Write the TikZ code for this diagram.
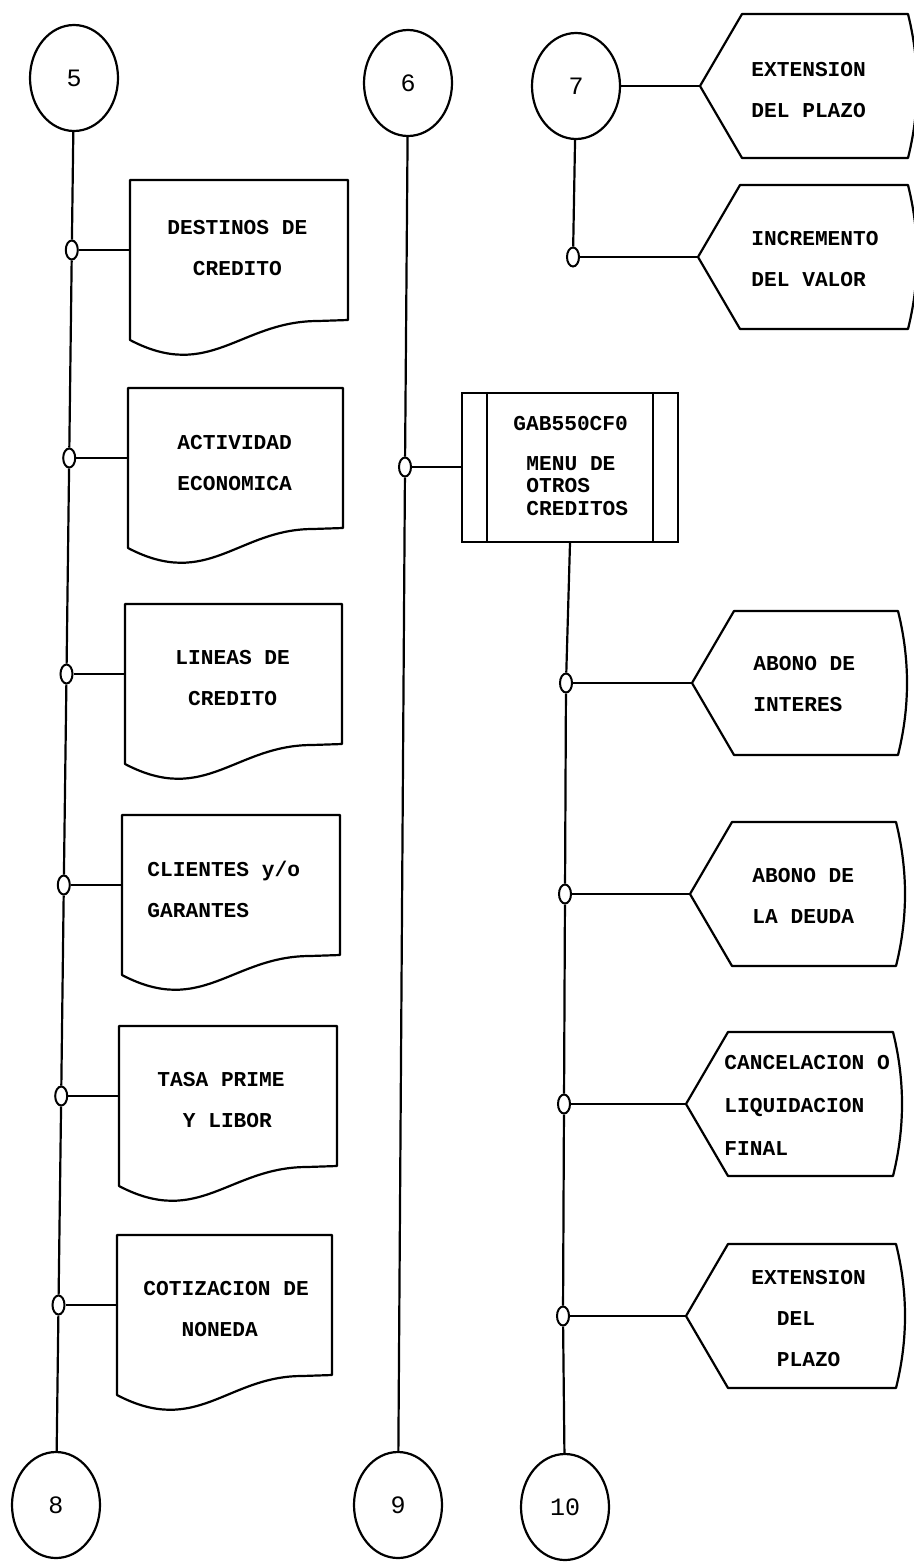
\documentclass[tikz,border=0pt]{standalone}
\usepackage{fontspec}
\newfontfamily\boxfont{Liberation Mono}
\usetikzlibrary{shapes.geometric,calc}

\tikzset{
  flow/.style={line width=1.1pt, line join=round},
  conn/.style={ellipse, draw, line width=1.1pt, minimum width=44pt, minimum height=53pt,
    inner sep=0pt, font=\boxfont\fontsize{12.5pt}{14pt}\selectfont},
  joint/.style={ellipse, draw, fill=white, line width=1pt, minimum width=6pt,
    minimum height=9.5pt, inner sep=0pt},
  lbl/.style={anchor=north west, inner sep=0pt, align=left,
    font=\boxfont\bfseries\fontsize{10.6pt}{20.5pt}\selectfont},
  procbox/.style={draw, line width=1.1pt, minimum width=108pt, minimum height=74.5pt, inner sep=0pt},
  % document symbol with a wavy lower edge; #1 = width
  pics/docbox/.style={code={
    \draw[flow] (0,0) -- (#1,0) -- (#1,140) -- (#1-30,141)
      .. controls (110,141) and (80,202) .. (0,160) -- cycle;
    \coordinate (-in) at (0,70);
  }},
  % display symbol pointing left; #1 = length from tip to right side
  pics/dispbox/.style={code={
    \draw[flow] (0,0) -- (42,-72) -- (#1,-72)
      .. controls (#1+12,-24) and (#1+12,24) .. (#1,72) -- (42,72) -- cycle;
    \coordinate (-in) at (0,0);
  }},
}

\begin{document}
\begin{tikzpicture}[x=0.5pt, y=-0.5pt]
\fill[white] (0,0) rectangle (914,1563);
\useasboundingbox (0,0) rectangle (914,1563);

% off-page connectors
\node[conn] (c5)  at (74,78)    {5};
\node[conn] (c6)  at (408,83)   {6};
\node[conn] (c7)  at (576,86)   {7};
\node[conn] (c8)  at (56,1505)  {8};
\node[conn] (c9)  at (398,1505) {9};
\node[conn] (c10) at (565,1507) {10};

% left branch: documents
\node[joint] (j1) at (71.8,250) {};
\node[joint] (j2) at (69.2,458) {};
\node[joint] (j3) at (66.5,674) {};
\node[joint] (j4) at (63.8,885) {};
\node[joint] (j5) at (61.2,1096) {};
\node[joint] (j6) at (58.5,1305) {};

\pic (d1) at (130,180)  {docbox=218};
\pic (d2) at (128,388)  {docbox=215};
\pic (d3) at (125,604)  {docbox=217};
\pic (d4) at (122,815)  {docbox=218};
\pic (d5) at (119,1026) {docbox=218};
\pic (d6) at (117,1235) {docbox=215};

\draw[flow] (c5) -- (j1) -- (j2) -- (j3) -- (j4) -- (j5) -- (j6) -- (c8);
\foreach \k in {1,...,6} { \draw[flow] (j\k) -- (d\k-in); }

\node[lbl] (t1) at (167,220)  {DESTINOS DE\\\phantom{XX}CREDITO};
\node[lbl] (t2) at (177,435)  {ACTIVIDAD\\ECONOMICA};
\node[lbl] (t3) at (175,650)  {LINEAS DE\\\phantom{X}CREDITO};
\node[lbl] (t4) at (147,861)  {CLIENTES y/o\\GARANTES};
\node[lbl] (t5) at (157,1072) {TASA PRIME\\\phantom{XX}Y LIBOR};
\node[lbl] (t6) at (143,1281) {COTIZACION DE\\\phantom{XXX}NONEDA};

% middle branch: menu program
\node[procbox] (gab) at (570,467.5) {};
\draw[flow] ($(gab.north west)+(26,0)$) -- ($(gab.south west)+(26,0)$);
\draw[flow] ($(gab.north east)+(-26,0)$) -- ($(gab.south east)+(-26,0)$);
\node[joint] (jm) at (405,467) {};
\draw[flow] (c6) -- (jm) -- (c9);
\draw[flow] (jm) -- (jm -| gab.west);
\node[lbl] (t13) at (513,416) {GAB550CF0};
\node[lbl, font=\boxfont\bfseries\fontsize{10.6pt}{11.3pt}\selectfont] (t14) at (526,456) {MENU DE\\OTROS\\CREDITOS};

% top right: displays from connector 7
\pic (e1) at (700,86)  {dispbox=208};
\pic (e2) at (698,257) {dispbox=210};
\node[joint] (j7) at (573,257) {};
\draw[flow] (c7) -- (e1-in);
\draw[flow] (c7) -- (j7);
\draw[flow] (j7) -- (e2-in);
\node[lbl] (t7) at (751,62)  {EXTENSION\\DEL PLAZO};
\node[lbl] (t8) at (751,231) {INCREMENTO\\DEL VALOR};

% right branch: displays below the menu
\node[joint] (r1) at (566,683)  {};
\node[joint] (r2) at (565,894)  {};
\node[joint] (r3) at (564,1104) {};
\node[joint] (r4) at (563,1316) {};
\pic (a1) at (692,683)  {dispbox=206};
\pic (a2) at (690,894)  {dispbox=206};
\pic (a3) at (686,1104) {dispbox=207};
\pic (a4) at (686,1316) {dispbox=210};
\draw[flow] (gab.south) -- (r1) -- (r2) -- (r3) -- (r4) -- (c10);
\foreach \k in {1,...,4} { \draw[flow] (r\k) -- (a\k-in); }

\node[lbl] (t9)  at (753,656)  {ABONO DE\\INTERES};
\node[lbl] (t10) at (752,868)  {ABONO DE\\LA DEUDA};
\node[lbl, font=\boxfont\bfseries\fontsize{10.6pt}{21.5pt}\selectfont] (t11) at (724,1055) {CANCELACION O\\LIQUIDACION\\FINAL};
\node[lbl] (t12) at (751,1270) {EXTENSION\\\phantom{XX}DEL\\\phantom{XX}PLAZO};
\end{tikzpicture}
\end{document}
